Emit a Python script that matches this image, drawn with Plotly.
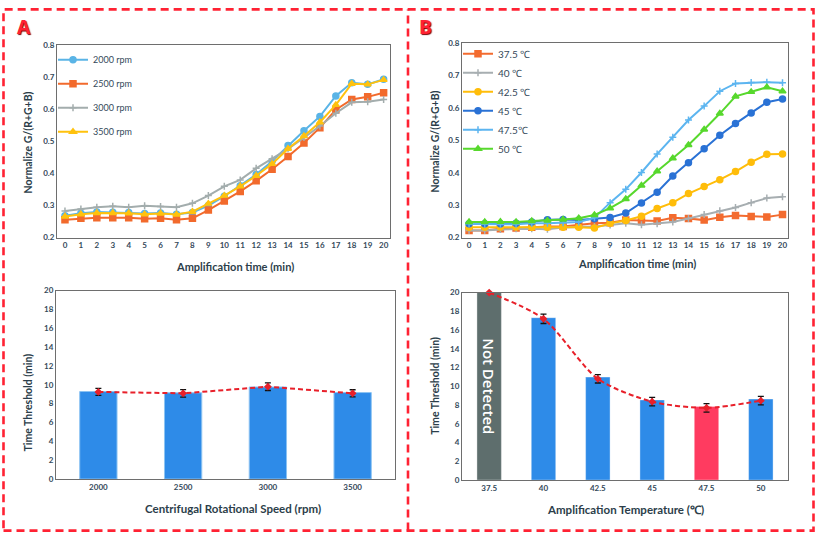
import plotly.graph_objects as go

# ---------------- data ----------------
time_min = list(range(21))

rpm_2000 = [0.268, 0.276, 0.280, 0.279, 0.278, 0.275, 0.277, 0.273, 0.278, 0.300, 0.329,
            0.362, 0.397, 0.438, 0.487, 0.533, 0.578, 0.642, 0.683, 0.678, 0.694]
rpm_2500 = [0.256, 0.260, 0.262, 0.262, 0.262, 0.259, 0.260, 0.256, 0.260, 0.286, 0.314,
            0.344, 0.377, 0.413, 0.453, 0.495, 0.543, 0.599, 0.631, 0.639, 0.652]
rpm_3000 = [0.283, 0.289, 0.295, 0.298, 0.295, 0.299, 0.297, 0.295, 0.307, 0.331, 0.360,
            0.380, 0.416, 0.446, 0.477, 0.512, 0.548, 0.588, 0.622, 0.624, 0.631]
rpm_3500 = [0.266, 0.273, 0.277, 0.277, 0.276, 0.273, 0.275, 0.272, 0.281, 0.306, 0.331,
            0.360, 0.393, 0.430, 0.477, 0.517, 0.560, 0.614, 0.680, 0.678, 0.692]

temp_375 = [0.222, 0.222, 0.227, 0.230, 0.232, 0.234, 0.234, 0.239, 0.244, 0.246, 0.254,
            0.253, 0.251, 0.261, 0.259, 0.254, 0.263, 0.268, 0.265, 0.264, 0.271]
temp_40 = [0.222, 0.222, 0.225, 0.227, 0.227, 0.226, 0.231, 0.233, 0.234, 0.239, 0.244,
           0.240, 0.243, 0.248, 0.259, 0.271, 0.283, 0.293, 0.308, 0.322, 0.326]
temp_425 = [0.232, 0.232, 0.233, 0.233, 0.232, 0.232, 0.232, 0.232, 0.230, 0.244, 0.253,
            0.266, 0.290, 0.308, 0.336, 0.358, 0.379, 0.404, 0.433, 0.457, 0.458]
temp_45 = [0.243, 0.243, 0.243, 0.244, 0.248, 0.255, 0.256, 0.254, 0.258, 0.262, 0.276,
           0.307, 0.340, 0.390, 0.431, 0.474, 0.516, 0.552, 0.585, 0.618, 0.628]
temp_475 = [0.243, 0.241, 0.241, 0.241, 0.244, 0.244, 0.246, 0.248, 0.261, 0.308, 0.349,
            0.401, 0.458, 0.510, 0.563, 0.606, 0.652, 0.676, 0.679, 0.680, 0.678]
temp_50 = [0.248, 0.248, 0.249, 0.248, 0.251, 0.253, 0.256, 0.260, 0.270, 0.291, 0.319,
           0.361, 0.405, 0.445, 0.486, 0.534, 0.583, 0.636, 0.650, 0.664, 0.652]

speed_labels = ["2000", "2500", "3000", "3500"]
speed_threshold = [9.29, 9.15, 9.77, 9.18]
speed_line = [9.25, 9.1, 9.8, 9.1]
speed_err = [0.37, 0.4, 0.4, 0.38]

temp_labels = ["37.5", "40", "42.5", "45", "47.5", "50"]
temp_threshold = [20, 17.32, 10.98, 8.54, 7.84, 8.64]
temp_line = [20, 17.2, 10.8, 8.36, 7.7, 8.47]
temp_err = [0, 0.5, 0.45, 0.45, 0.45, 0.45]
temp_bar_colors = ["#5e6e6d", "#2e8be8", "#2e8be8", "#2e8be8", "#ff3b60", "#2e8be8"]
not_detected_label = "Not Detected"

W, H = 817, 540
FONT = "Lato"
TICK_COLOR = "#34495a"
TITLE_COLOR = "#2c3e4a"
RED = "#ff2233"


def px(x):
    return x / W


def py(y):
    return 1 - y / H


fig = go.Figure()

# ---------------- top-left: rpm curves ----------------
rpm_series = [
    ("2000 rpm", rpm_2000, "#5ab4e6", "circle", 6),
    ("2500 rpm", rpm_2500, "#f26a2c", "square", 6),
    ("3000 rpm", rpm_3000, "#a3adad", "cross-thin-open", 5),
    ("3500 rpm", rpm_3500, "#ffc20e", "triangle-up", 6),
]
for i, (name, vals, col, sym, sz) in enumerate(rpm_series):
    fig.add_trace(go.Scatter(
        x=time_min, y=vals, name=name, mode="lines+markers",
        line=dict(color=col, width=2),
        marker=dict(symbol=sym, size=sz, color=col, line=dict(color=col, width=1.5)),
        xaxis="x", yaxis="y", legend="legend", legendgroup="a%d" % i))

# ---------------- top-right: temperature curves ----------------
temp_series = [
    ("37.5 ℃", temp_375, "#f36b2f", "square", 6),
    ("40 ℃", temp_40, "#a7aeb1", "cross-thin-open", 5),
    ("42.5 ℃", temp_425, "#ffbd0a", "circle", 6),
    ("45 ℃", temp_45, "#2a72d5", "circle", 6),
    ("47.5℃", temp_475, "#5cb5f0", "cross-thin-open", 5),
    ("50 ℃", temp_50, "#57d82d", "triangle-up", 6),
]
for i, (name, vals, col, sym, sz) in enumerate(temp_series):
    fig.add_trace(go.Scatter(
        x=time_min, y=vals, name=name, mode="lines+markers",
        line=dict(color=col, width=2),
        marker=dict(symbol=sym, size=sz, color=col, line=dict(color=col, width=1.5)),
        xaxis="x2", yaxis="y2", legend="legend2"))

# ---------------- bottom-left: speed bars ----------------
fig.add_trace(go.Bar(
    x=speed_labels, y=speed_threshold, width=0.44,
    marker=dict(color="#2e8be8", line=dict(color="#8cc3f2", width=1)),
    xaxis="x3", yaxis="y3", showlegend=False))
fig.add_trace(go.Scatter(
    x=speed_labels, y=speed_line, mode="lines+markers",
    line=dict(color="#e8202a", width=2, dash="5px,3px"),
    marker=dict(symbol="diamond", size=6, color="#e8202a"),
    error_y=dict(type="data", array=speed_err, color="#111111", thickness=1.3, width=3),
    xaxis="x3", yaxis="y3", showlegend=False))

# ---------------- bottom-right: temperature bars ----------------
fig.add_trace(go.Bar(
    x=temp_labels, y=temp_threshold, width=0.45,
    marker=dict(color=temp_bar_colors, line=dict(color="rgba(255,255,255,0.35)", width=1)),
    xaxis="x4", yaxis="y4", showlegend=False))
fig.add_trace(go.Scatter(
    x=temp_labels, y=temp_line, mode="lines+markers",
    line=dict(color="#e8202a", width=2, dash="5px,3px", shape="spline", smoothing=0.8),
    marker=dict(symbol="diamond", size=6, color="#e8202a"),
    error_y=dict(type="data", array=temp_err, color="#111111", thickness=1.3, width=3),
    xaxis="x4", yaxis="y4", showlegend=False, cliponaxis=False))

tickfont = dict(family=FONT, size=8, color=TICK_COLOR, weight="bold")
axis_common = dict(showgrid=False, zeroline=False, showline=True, mirror=True,
                   linecolor="#6e6e6e", linewidth=1, ticks="", tickfont=tickfont)

fig.update_layout(
    width=W, height=H, margin=dict(l=0, r=0, t=0, b=0),
    paper_bgcolor="white", plot_bgcolor="white",
    font=dict(family=FONT),
    hovermode=False,
    xaxis=dict(domain=[px(57), px(390)], anchor="y", range=[-0.5, 20.4],
               tickmode="linear", dtick=1, **axis_common),
    yaxis=dict(domain=[py(237), py(41)], anchor="x", range=[0.2, 0.8],
               tickmode="linear", dtick=0.1, tickformat=".1f", **axis_common),
    xaxis2=dict(domain=[px(462), px(788)], anchor="y2", range=[-0.45, 20.35],
                tickmode="linear", dtick=1, **axis_common),
    yaxis2=dict(domain=[py(237), py(39)], anchor="x2", range=[0.2, 0.8],
                tickmode="linear", dtick=0.1, tickformat=".1f", **axis_common),
    xaxis3=dict(domain=[px(56), px(395)], anchor="y3", type="category",
                range=[-0.5, len(speed_labels) - 0.5], **axis_common),
    yaxis3=dict(domain=[py(483), py(291)], anchor="x3", range=[0, 20],
                tickmode="linear", dtick=2, **axis_common),
    xaxis4=dict(domain=[px(462), px(788)], anchor="y4", type="category",
                range=[-0.5, len(temp_labels) - 0.5], **axis_common),
    yaxis4=dict(domain=[py(484), py(293)], anchor="x4", range=[0, 20],
                tickmode="linear", dtick=2, **axis_common),
    legend=dict(x=px(53), y=py(41), xanchor="left", yanchor="top",
                bgcolor="rgba(0,0,0,0)", tracegroupgap=5, traceorder="grouped",
                font=dict(family=FONT, size=9, color=TICK_COLOR)),
    legend2=dict(x=px(458), y=py(35), xanchor="left", yanchor="top",
                 bgcolor="rgba(0,0,0,0)", traceorder="normal",
                 font=dict(family=FONT, size=10, color=TICK_COLOR)),
    showlegend=True,
)

ann = []
title_font = dict(family=FONT, size=11, color=TITLE_COLOR, weight="bold")


def title_ann(text, x, y, angle=0, size=11):
    return dict(text=text, x=px(x), y=py(y), xref="paper", yref="paper",
                xanchor="center", yanchor="middle", showarrow=False, textangle=angle,
                font=dict(title_font, size=size))


ann.append(title_ann("Amplification time (min)", 235, 266))
ann.append(title_ann("Normalize G/(R+G+B)", 28, 140, -90, 10.5))
ann.append(title_ann("Amplification time (min)", 637, 263))
ann.append(title_ann("Normalize G/(R+G+B)", 435, 139, -90, 10.5))
ann.append(title_ann("Centrifugal Rotational Speed (rpm)", 233, 513, 0, 11.5))
ann.append(title_ann("Time Threshold (min)", 27, 405, -90, 10.5))
ann.append(title_ann("Amplification Temperature (℃)", 625, 514, 0, 11.5))
ann.append(title_ann("Time Threshold (min)", 435, 388, -90, 10.5))
# Not Detected label inside the first bar (category index 0)
ann.append(dict(text=not_detected_label, x=0, y=temp_threshold[0] / 2, xref="x4", yref="y4",
                xanchor="center", yanchor="middle", showarrow=False, textangle=90,
                font=dict(family="Open Sans", size=15, color="white", weight=600)))
# Panel letters
for letter, lx in (("A", 24), ("B", 426)):
    ann.append(dict(text=letter, x=px(lx), y=py(22), xref="paper", yref="paper",
                    xanchor="center", yanchor="middle", showarrow=False,
                    font=dict(family="Open Sans", size=19, color=RED, weight="bold",
                              shadow="1px 1px 1px #7a0000")))
fig.update_layout(annotations=ann)

border = dict(color=RED, width=2.6, dash="8px,5px")
fig.update_layout(shapes=[
    dict(type="rect", xref="paper", yref="paper", x0=px(3.5), x1=px(813.5), y0=py(535.5), y1=py(4.5),
         line=border),
    dict(type="line", xref="paper", yref="paper", x0=px(408), x1=px(408), y0=py(535.5), y1=py(4.5),
         line=border),
])

fig.write_html("out.html",
               config={"displayModeBar": False, "staticPlot": True},
               post_script="document.body.style.margin='0';document.body.style.overflow='hidden';")
